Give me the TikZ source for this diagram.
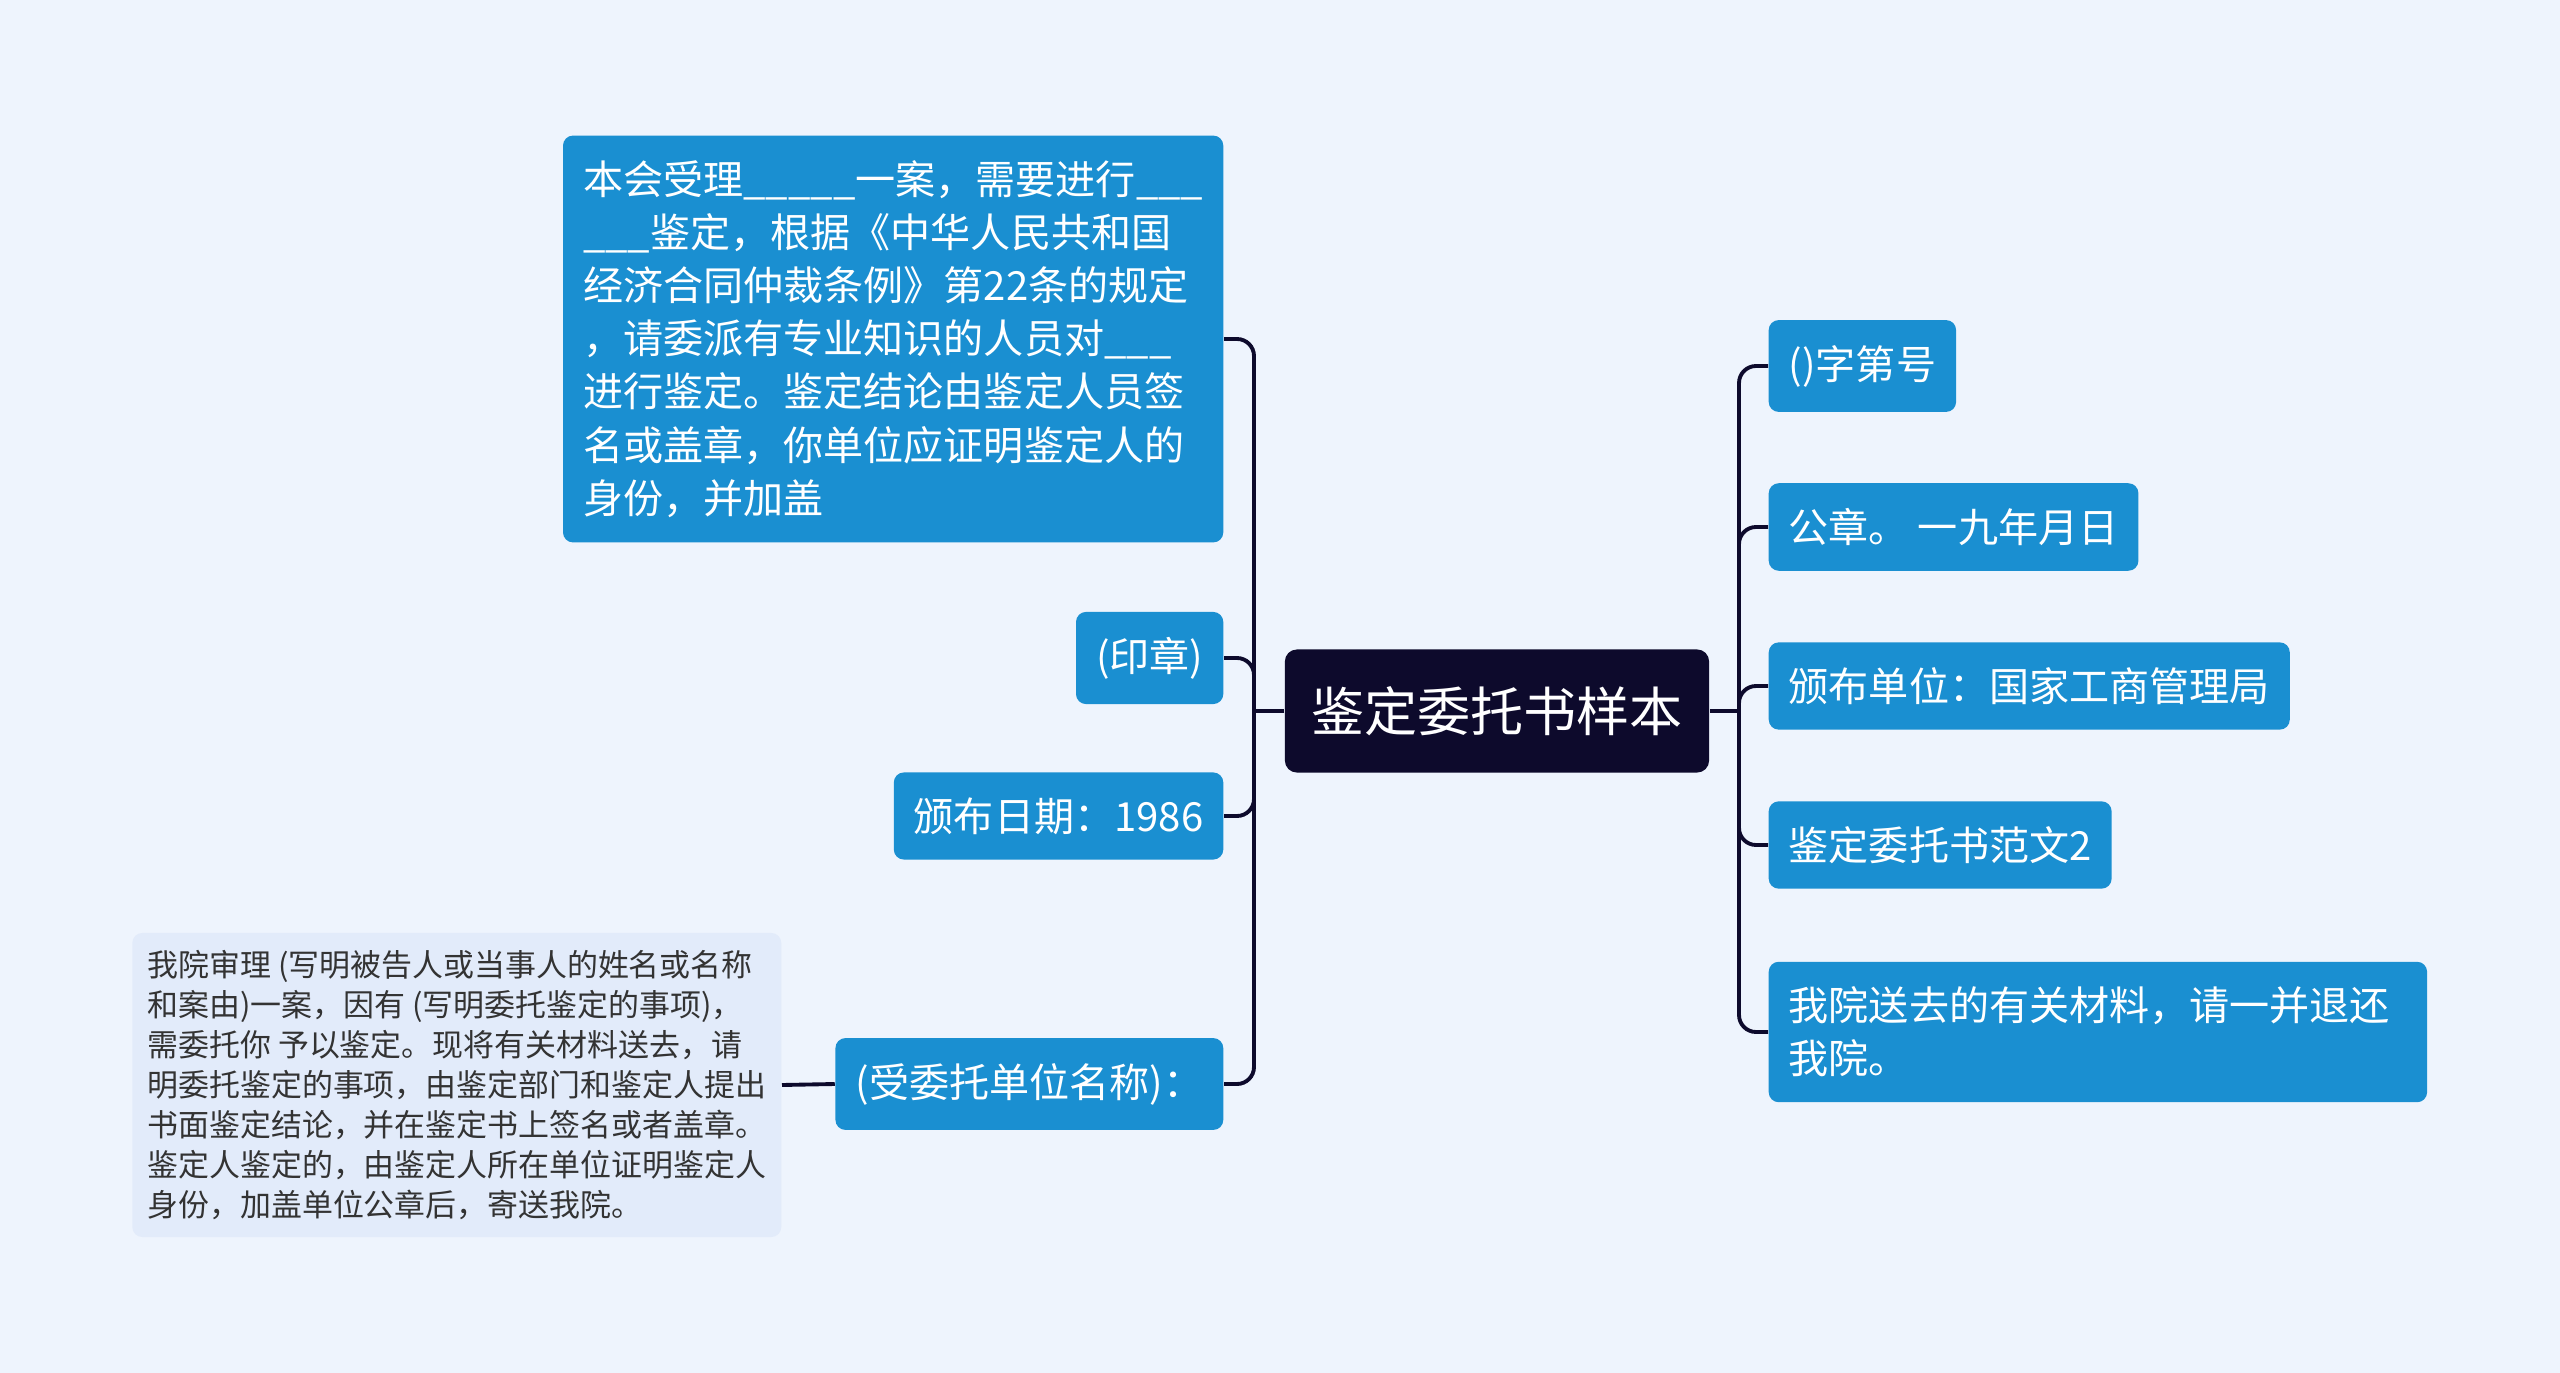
\documentclass[tikz,border=0pt]{standalone}
\usepackage{fontspec}
\newfontfamily\cjk{Noto Sans CJK SC}
\definecolor{bgcol}{HTML}{EEF4FD}
\definecolor{topicblue}{HTML}{1A8FD1}
\definecolor{rootcol}{HTML}{0D0A2C}
\definecolor{notecol}{HTML}{E2EBFA}
\definecolor{notetext}{HTML}{333333}
\begin{document}
\begin{tikzpicture}[x=0.01cm, y=-0.01cm, every node/.style={font=\cjk}]
  \tikzstyle{topic}=[fill=topicblue, rounded corners=0.1cm, text=white, inner xsep=0.2cm, inner ysep=0.25cm, align=left, font=\cjk\fontsize{11.4pt}{15.1pt}\selectfont]
  \tikzstyle{central}=[fill=rootcol, rounded corners=0.12cm, text=white, minimum width=4.24cm, minimum height=1.23cm, font=\cjk\fontsize{15.1pt}{18pt}\selectfont]
  \tikzstyle{memo}=[fill=notecol, rounded corners=0.1cm, text=notetext, inner xsep=0.15cm, inner ysep=0.17cm, align=left, font=\cjk\fontsize{8.8pt}{11.4pt}\selectfont]
  \tikzstyle{link}=[draw=rootcol, line width=1.1pt, rounded corners=0.17cm]
  \fill[bgcol] (0,0) rectangle (2560,1373);
  \useasboundingbox (0,0) rectangle (2560,1373);
  \node[central] (root) at (1497,711) {鉴定委托书样本};
  \coordinate (lj) at (1254,711); \coordinate (rj) at (1739,711);
  \node[topic, anchor=east] (clause) at (1224,339) {本会受理\_\_\_\_\_一案，需要进行\_\_\_\\\_\_\_鉴定，根据《中华人民共和国\\经济合同仲裁条例》第22条的规定\\，请委派有专业知识的人员对\_\_\_\\进行鉴定。鉴定结论由鉴定人员签\\名或盖章，你单位应证明鉴定人的\\身份，并加盖};
  \node[topic, anchor=east] (seal) at (1224,658) {(印章)};
  \node[topic, anchor=east] (date) at (1224,816) {颁布日期：1986};
  \node[topic, anchor=east] (unit) at (1224,1084) {(受委托单位名称)：};
  \node[memo, anchor=east] (note) at (782,1085) {我院审理 (写明被告人或当事人的姓名或名称\\和案由)一案，因有 (写明委托鉴定的事项)，\\需委托你 予以鉴定。现将有关材料送去，请\\明委托鉴定的事项，由鉴定部门和鉴定人提出\\书面鉴定结论，并在鉴定书上签名或者盖章。\\鉴定人鉴定的，由鉴定人所在单位证明鉴定人\\身份，加盖单位公章后，寄送我院。};
  \node[topic, anchor=west] (num) at (1768,366) {()字第号};
  \node[topic, anchor=west] (stamp) at (1768,527) {公章。 一九年月日};
  \node[topic, anchor=west] (issuer) at (1768,686) {颁布单位：国家工商管理局};
  \node[topic, anchor=west] (sample) at (1768,845) {鉴定委托书范文2};
  \node[topic, anchor=west, text width=6.18cm] (back) at (1768,1032) {我院送去的有关材料，请一并退还\\我院。};
  \draw[link] (root.west) -- (lj); \draw[link] (root.east) -- (rj);
  \draw[link] (lj) |- (clause.east); \draw[link] (lj) |- (seal.east);
  \draw[link] (lj) |- (date.east); \draw[link] (lj) |- (unit.east);
  \draw[link] (unit.west) -- (note.east);
  \draw[link] (rj) |- (num.west); \draw[link] (rj) |- (stamp.west);
  \draw[link] (rj) |- (issuer.west); \draw[link] (rj) |- (sample.west);
  \draw[link] (rj) |- (back.west);
\end{tikzpicture}
\end{document}
